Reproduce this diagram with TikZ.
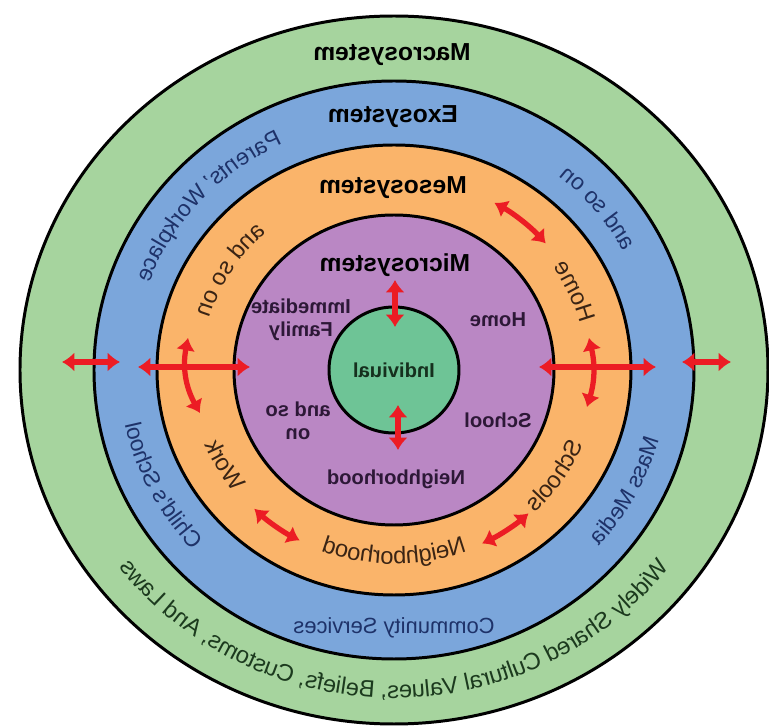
\documentclass[tikz,border=0pt]{standalone}
\usepackage{fontspec}
\setmainfont{Liberation Sans}
\usepackage{tikz}
\usetikzlibrary{arrows.meta,decorations.text}

\definecolor{macrogreen}{RGB}{166,212,158}
\definecolor{exoblue}{RGB}{123,166,219}
\definecolor{mesoorange}{RGB}{250,180,106}
\definecolor{micropurple}{RGB}{186,135,196}
\definecolor{selfgreen}{RGB}{110,196,150}
\definecolor{arrowred}{RGB}{236,28,36}
\definecolor{macrotext}{RGB}{28,58,30}
\definecolor{exotext}{RGB}{30,50,105}
\definecolor{mesotext}{RGB}{58,36,20}
\definecolor{microtext}{RGB}{45,24,55}
\definecolor{selftext}{RGB}{22,48,30}

\newcommand\macrofont{\fontsize{13.5}{16}\selectfont\color{macrotext}}
\newcommand\exofont{\fontsize{13}{15}\selectfont\color{exotext}}
\newcommand\mesofont{\fontsize{13.5}{16}\selectfont\color{mesotext}}

\begin{document}
\begin{tikzpicture}[x=0.02cm, y=0.02cm,
	ring/.style={line width=1.7pt},
	link/.style={arrowred, line width=3pt, {Latex[length=7pt,width=11pt]}-{Latex[length=7pt,width=11pt]}},
	title/.style={font=\fontsize{14}{16}\selectfont\bfseries},
	micro/.style={font=\fontsize{11.5}{13}\selectfont\bfseries, text=microtext, align=center},
	arclabel/.style={decorate, decoration={text along path, text align=center}}]
	\useasboundingbox (-394,-357) rectangle (375,370);
	\begin{scope}[transform canvas={xscale=-1}]
	% rings, outside in
	\draw[ring, fill=macrogreen] (0,0) ellipse [x radius=374, y radius=354];
	\draw[ring, fill=exoblue] (0,0) ellipse [x radius=300, y radius=289];
	\draw[ring, fill=mesoorange] (0,0) ellipse [x radius=237, y radius=225];
	\draw[ring, fill=micropurple] (0,0) ellipse [x radius=160, y radius=155];
	\draw[ring, fill=selfgreen] (0,0) ellipse [x radius=65, y radius=63];

	\node[title] (macro) at (2,315) {Macrosystem};
	\node[title] (exo) at (1,253) {Exosystem};
	\node[title] (meso) at (1,182) {Mesosystem};
	\node[title] (micro) at (-1,105) {Microsystem};
	\node[font=\fontsize{11.5}{13}\selectfont\bfseries, text=selftext] (self) at (0,0) {Indiviual};

	\node[micro] (family) at (93,50) {Immediate\\Family};
	\node[micro] (home) at (-104,50) {Home};
	\node[micro] (andso) at (96,-51) {and so\\on};
	\node[micro] (school) at (-104,-50) {School};
	\node[micro] (hood) at (-2,-109) {Neighborhood};

	% mesosystem ring
	\path[arclabel, decoration={text={|\mesofont|and so on}}] (72:192 and 184) arc[start angle=72, end angle=-8, x radius=192, y radius=184];
	\path[arclabel, decoration={text={|\mesofont|Home}}] (196:192 and 184) arc[start angle=196, end angle=116, x radius=192, y radius=184];
	\path[arclabel, decoration={text={|\mesofont|Schools}}] (174:205 and 196) arc[start angle=174, end angle=254, x radius=205, y radius=196];
	\path[arclabel, decoration={text={|\mesofont|Neighborhood}}] (220:203 and 194) arc[start angle=220, end angle=320, x radius=203, y radius=194];
	\path[arclabel, decoration={text={|\mesofont|Work}}] (290:205 and 196) arc[start angle=290, end angle=370, x radius=205, y radius=196];

	% exosystem ring
	\path[arclabel, decoration={text={|\exofont|Parents' Workplace}}] (92:261 and 250) arc[start angle=92, end angle=-8, x radius=261, y radius=250];
	\path[arclabel, decoration={text={|\exofont|and so on}}] (186:261 and 250) arc[start angle=186, end angle=96, x radius=261, y radius=250];
	\path[arclabel, decoration={text={|\exofont|Mass Media}}] (163:275 and 264) arc[start angle=163, end angle=253, x radius=275, y radius=264];
	\path[arclabel, decoration={text={|\exofont|Child's School}}] (288:275 and 264) arc[start angle=288, end angle=378, x radius=275, y radius=264];
	\node[font=\fontsize{12.5}{15}\selectfont, text=exotext] (services) at (0,-258) {Community Services};

	% macrosystem ring
	\path[arclabel, decoration={text={|\macrofont|Widely Shared Cultural Values, Beliefs, Customs, And Laws}}] (190:344 and 328) arc[start angle=190, end angle=350, x radius=344, y radius=328];

	% interactions
	\draw[link] (-1,43) -- (-1,90);
	\draw[link] (-4,-35) -- (-4,-80);
	\draw[link] (144,3) -- (256,3);
	\draw[link] (-145,3) -- (-262,3);
	\draw[link] (274,8) -- (332,8);
	\draw[link] (-288,8) -- (-337,8);
	\draw[link] (206,32) to[bend left=20] (194,-43);
	\draw[link] (-195,32) to[bend right=15] (-193,-37);
	\draw[link] (120:201 and 193) arc[start angle=120, end angle=139, x radius=201, y radius=193];
	\draw[link] (-46:201 and 193) arc[start angle=-46, end angle=-62, x radius=201, y radius=193];
	\draw[link] (-116:201 and 193) arc[start angle=-116, end angle=-132, x radius=201, y radius=193];
	\end{scope}
\end{tikzpicture}
\end{document}
